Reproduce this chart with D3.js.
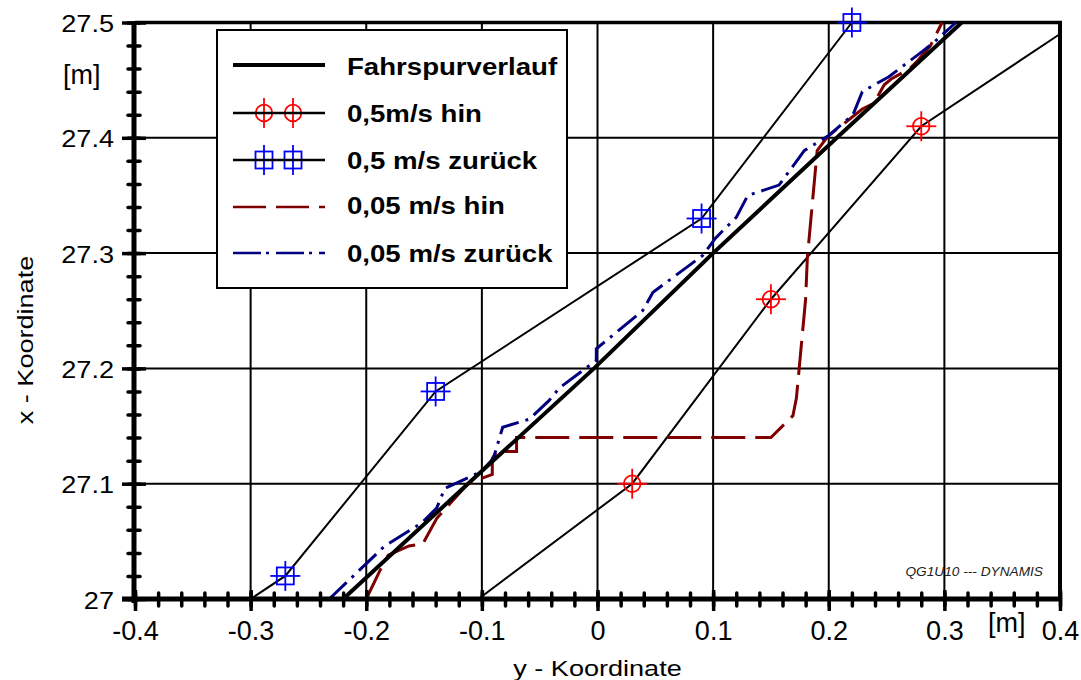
<!DOCTYPE html>
<html><head><meta charset="utf-8">
<script src="https://cdn.jsdelivr.net/npm/d3@7"></script>
<style>body{margin:0;background:#fff} svg{display:block} text{font-family:"Liberation Sans",Arial,Helvetica,sans-serif}</style>
</head><body><svg id="c" width="1081" height="680"></svg>
<script>
// ---- tick labels ----
const xTickValues=[-0.4,-0.3,-0.2,-0.1,0,0.1,0.2,0.3,0.4];
const xTickLabels=["-0.4","-0.3","-0.2","-0.1","0","0.1","0.2","0.3","0.4"];
const yTickValues=[27,27.1,27.2,27.3,27.4,27.5];
const yTickLabels=["27","27.1","27.2","27.3","27.4","27.5"];
const seriesNames=["Fahrspurverlauf","0,5m/s hin","0,5 m/s zurück","0,05 m/s hin","0,05 m/s zurück"];

// ---- data: each point [y-Koordinate (horizontal), x-Koordinate (vertical)] ----
const fahrspur=[[-0.22,27.0],[-0.112,27.1],[-0.003,27.2],[0.1,27.3],[0.207,27.4],[0.315,27.5]];
const hin05Line=[[-0.103,27.0],[0.03,27.1],[0.15,27.26],[0.28,27.41],[0.4,27.49]];
const hin05Markers=[[0.03,27.1],[0.15,27.26],[0.28,27.41]];
const zur05Line=[[-0.3,27.0],[-0.27,27.02],[-0.14,27.18],[0.09,27.33],[0.22,27.5]];
const zur05Markers=[[-0.27,27.02],[-0.14,27.18],[0.09,27.33],[0.22,27.5]];
const hin005=[[-0.2,27.0],[-0.188,27.025],[-0.181,27.038],[-0.163,27.046],[-0.151,27.048],[-0.139,27.07],
  [-0.112,27.1],[-0.102,27.104],[-0.091,27.108],[-0.091,27.122],[-0.087,27.128],[-0.07,27.128],[-0.07,27.14],
  [0.15,27.14],[0.169,27.159],[0.172,27.174],[0.18,27.26],[0.1815,27.296],[0.19,27.389],[0.199,27.401],
  [0.229,27.425],[0.239,27.43],[0.248,27.446],[0.254,27.451],[0.27,27.46],[0.277,27.467],[0.288,27.48],[0.298,27.5]];
const zur005=[[-0.232,27.0],[-0.184,27.046],[-0.152,27.066],[-0.139,27.079],[-0.132,27.096],[-0.108,27.107],
  [-0.1,27.111],[-0.09,27.122],[-0.082,27.149],[-0.059,27.156],[-0.042,27.172],[-0.033,27.183],[-0.001,27.207],
  [-0.001,27.217],[0.039,27.25],[0.048,27.266],[0.091,27.298],[0.102,27.313],[0.12,27.331],[0.13,27.35],
  [0.157,27.359],[0.179,27.389],[0.2,27.402],[0.221,27.42],[0.229,27.44],[0.252,27.453],[0.281,27.475],
  [0.29,27.482],[0.31,27.5]];

const svg=d3.select("#c");
const x=d3.scaleLinear().domain([-0.4,0.4]).range([135,1060]);
const y=d3.scaleLinear().domain([27,27.5]).range([599,22.5]);
const FONT='"Liberation Sans",Arial,sans-serif';

function stext(g,txt,tx,ty,fs,sx,anchor,opts){
  opts=opts||{};
  const tr=opts.rot?`translate(${tx},${ty}) scale(1,${sx}) rotate(${opts.rot})`:`translate(${tx},${ty}) scale(${sx},1)`;
  return g.append("text").attr("transform",tr)
    .attr("text-anchor",anchor).attr("font-size",fs).attr("fill",opts.fill||"#000")
    .attr("font-weight",opts.bold?"bold":"normal").attr("font-style",opts.italic?"italic":"normal").text(txt);
}

// grid
const grid=svg.append("g").attr("stroke","#000").attr("stroke-width",2);
grid.selectAll(".gv").data(xTickValues.filter(v=>v>-0.4&&v<0.4)).enter().append("line")
  .attr("x1",d=>x(d)).attr("x2",d=>x(d)).attr("y1",y(27.5)).attr("y2",y(27));
grid.selectAll(".gh").data(yTickValues.filter(v=>v>27&&v<27.5)).enter().append("line")
  .attr("y1",d=>y(d)).attr("y2",d=>y(d)).attr("x1",x(-0.4)).attr("x2",x(0.4));
// top and right borders
svg.append("line").attr("x1",x(-0.4)).attr("x2",x(0.4)+2).attr("y1",y(27.5)).attr("y2",y(27.5)).attr("stroke","#000").attr("stroke-width",3.5);
svg.append("line").attr("x1",x(0.4)).attr("x2",x(0.4)).attr("y1",y(27.5)-1.5).attr("y2",y(27)).attr("stroke","#000").attr("stroke-width",4);

// legend box
const lg=svg.append("g");
lg.append("rect").attr("x",217).attr("y",30).attr("width",350).attr("height",258).attr("fill","#fff").attr("stroke","#000").attr("stroke-width",2);

// lines
const line=d3.line().x(d=>x(d[0])).y(d=>y(d[1]));
svg.append("path").datum(hin05Line).attr("d",line).attr("fill","none").attr("stroke","#000").attr("stroke-width",2);
svg.append("path").datum(zur05Line).attr("d",line).attr("fill","none").attr("stroke","#000").attr("stroke-width",2);
svg.append("path").datum(hin005).attr("d",line).attr("fill","none").attr("stroke","#7f0000").attr("stroke-width",3).attr("stroke-dasharray","34,10");
svg.append("path").datum(zur005).attr("d",line).attr("fill","none").attr("stroke","#000080").attr("stroke-width",3).attr("stroke-dasharray","24,7,3,7");
svg.append("path").datum(fahrspur).attr("d",line).attr("fill","none").attr("stroke","#000").attr("stroke-width",4);

function circleMarker(g,cx,cy){
  g.append("circle").attr("cx",cx).attr("cy",cy).attr("r",8.3).attr("fill","none").attr("stroke","#ff0000").attr("stroke-width",1.8);
  g.append("line").attr("x1",cx-15).attr("x2",cx+15).attr("y1",cy).attr("y2",cy).attr("stroke","#ff0000").attr("stroke-width",1.8);
  g.append("line").attr("x1",cx).attr("x2",cx).attr("y1",cy-15).attr("y2",cy+15).attr("stroke","#ff0000").attr("stroke-width",1.8);
}
function squareMarker(g,cx,cy){
  g.append("rect").attr("x",cx-8.5).attr("y",cy-8.5).attr("width",17).attr("height",17).attr("fill","none").attr("stroke","#0000ff").attr("stroke-width",1.8);
  g.append("line").attr("x1",cx-15).attr("x2",cx+15).attr("y1",cy).attr("y2",cy).attr("stroke","#0000ff").attr("stroke-width",1.8);
  g.append("line").attr("x1",cx).attr("x2",cx).attr("y1",cy-15).attr("y2",cy+15).attr("stroke","#0000ff").attr("stroke-width",1.8);
}
const mk=svg.append("g");
hin05Markers.forEach(d=>circleMarker(mk,x(d[0]),y(d[1])));
zur05Markers.forEach(d=>squareMarker(mk,x(d[0]),y(d[1])));

// legend entries
const rowsY=[65,113,160,207,253];
const baseOff=[10,9,8.5,6.5,8.7];
lg.append("line").attr("x1",233).attr("x2",325).attr("y1",rowsY[0]).attr("y2",rowsY[0]).attr("stroke","#000").attr("stroke-width",4);
circleMarker(lg,264,rowsY[1]);circleMarker(lg,293,rowsY[1]);
lg.append("line").attr("x1",233).attr("x2",325).attr("y1",rowsY[1]).attr("y2",rowsY[1]).attr("stroke","#000").attr("stroke-width",2.5);
squareMarker(lg,264,rowsY[2]);squareMarker(lg,293,rowsY[2]);
lg.append("line").attr("x1",233).attr("x2",325).attr("y1",rowsY[2]).attr("y2",rowsY[2]).attr("stroke","#000").attr("stroke-width",2.5);
lg.append("line").attr("x1",233).attr("x2",325).attr("y1",rowsY[3]).attr("y2",rowsY[3]).attr("stroke","#7f0000").attr("stroke-width",2.5).attr("stroke-dasharray","33,10");
lg.append("line").attr("x1",233).attr("x2",325).attr("y1",rowsY[4]).attr("y2",rowsY[4]).attr("stroke","#000080").attr("stroke-width",2.5).attr("stroke-dasharray","28,5,3,7");
seriesNames.forEach((s,i)=>stext(lg,s,347,rowsY[i]+baseOff[i],24,1.15,"start",{bold:true}));

// axes lines
svg.append("line").attr("x1",x(-0.4)-1).attr("x2",x(-0.4)-1).attr("y1",y(27.5)-1).attr("y2",y(27)+4).attr("stroke","#000").attr("stroke-width",5);
svg.append("line").attr("x1",122).attr("x2",x(0.4)+2).attr("y1",y(27)).attr("y2",y(27)).attr("stroke","#000").attr("stroke-width",5);

// bottom axis (major + minor)
const xMinor=svg.append("g").attr("transform",`translate(0,${y(27)})`)
  .call(d3.axisBottom(x).tickValues(x.ticks(40)).tickFormat("").tickSizeOuter(0));
xMinor.select(".domain").remove();
xMinor.selectAll(".tick line").attr("y1",-6).attr("y2",7).attr("stroke","#000").attr("stroke-width",3.5).attr("stroke-linecap","round");
const xMajor=svg.append("g").attr("transform",`translate(0,${y(27)})`)
  .call(d3.axisBottom(x).tickValues(xTickValues).tickFormat((d,i)=>xTickLabels[i]).tickSizeOuter(0));
xMajor.select(".domain").remove();
xMajor.selectAll(".tick line").attr("y1",-9).attr("y2",12).attr("stroke","#000").attr("stroke-width",3.5);
xMajor.selectAll(".tick text").attr("y",41).attr("dy",null).attr("font-size",27).attr("font-family",FONT).attr("fill","#000");

// left axis
const ax=x(-0.4)-1;
const yMinor=svg.append("g").attr("transform",`translate(${ax},0)`)
  .call(d3.axisLeft(y).tickValues(y.ticks(25)).tickFormat("").tickSizeOuter(0));
yMinor.select(".domain").remove();
yMinor.selectAll(".tick line").attr("x1",-6).attr("x2",6).attr("stroke","#000").attr("stroke-width",3.5).attr("stroke-linecap","round");
const yMajor=svg.append("g").attr("transform",`translate(${ax},0)`)
  .call(d3.axisLeft(y).tickValues(yTickValues).tickFormat((d,i)=>yTickLabels[i]).tickSizeOuter(0));
yMajor.select(".domain").remove();
yMajor.selectAll(".tick line").attr("x1",-12).attr("x2",12).attr("stroke","#000").attr("stroke-width",3.5);
yMajor.selectAll(".tick text").attr("x",null).attr("dy",null)
  .attr("transform",`translate(${114-ax},9) scale(1.13,1)`).attr("text-anchor","end")
  .attr("font-size",24).attr("font-family",FONT).attr("fill","#000");

// axis titles and units
stext(svg,"y - Koordinate",597.5,676,22,1.23,"middle");
stext(svg,"x - Koordinate",33,340,22,1.23,"middle",{rot:-90});
stext(svg,"[m]",988,632,27,1,"start");
stext(svg,"[m]",63,84,27,1,"start");
stext(svg,"QG1U10 --- DYNAMIS",1043,576,12,1.14,"end",{italic:true,fill:"#222"});
</script></body></html>
